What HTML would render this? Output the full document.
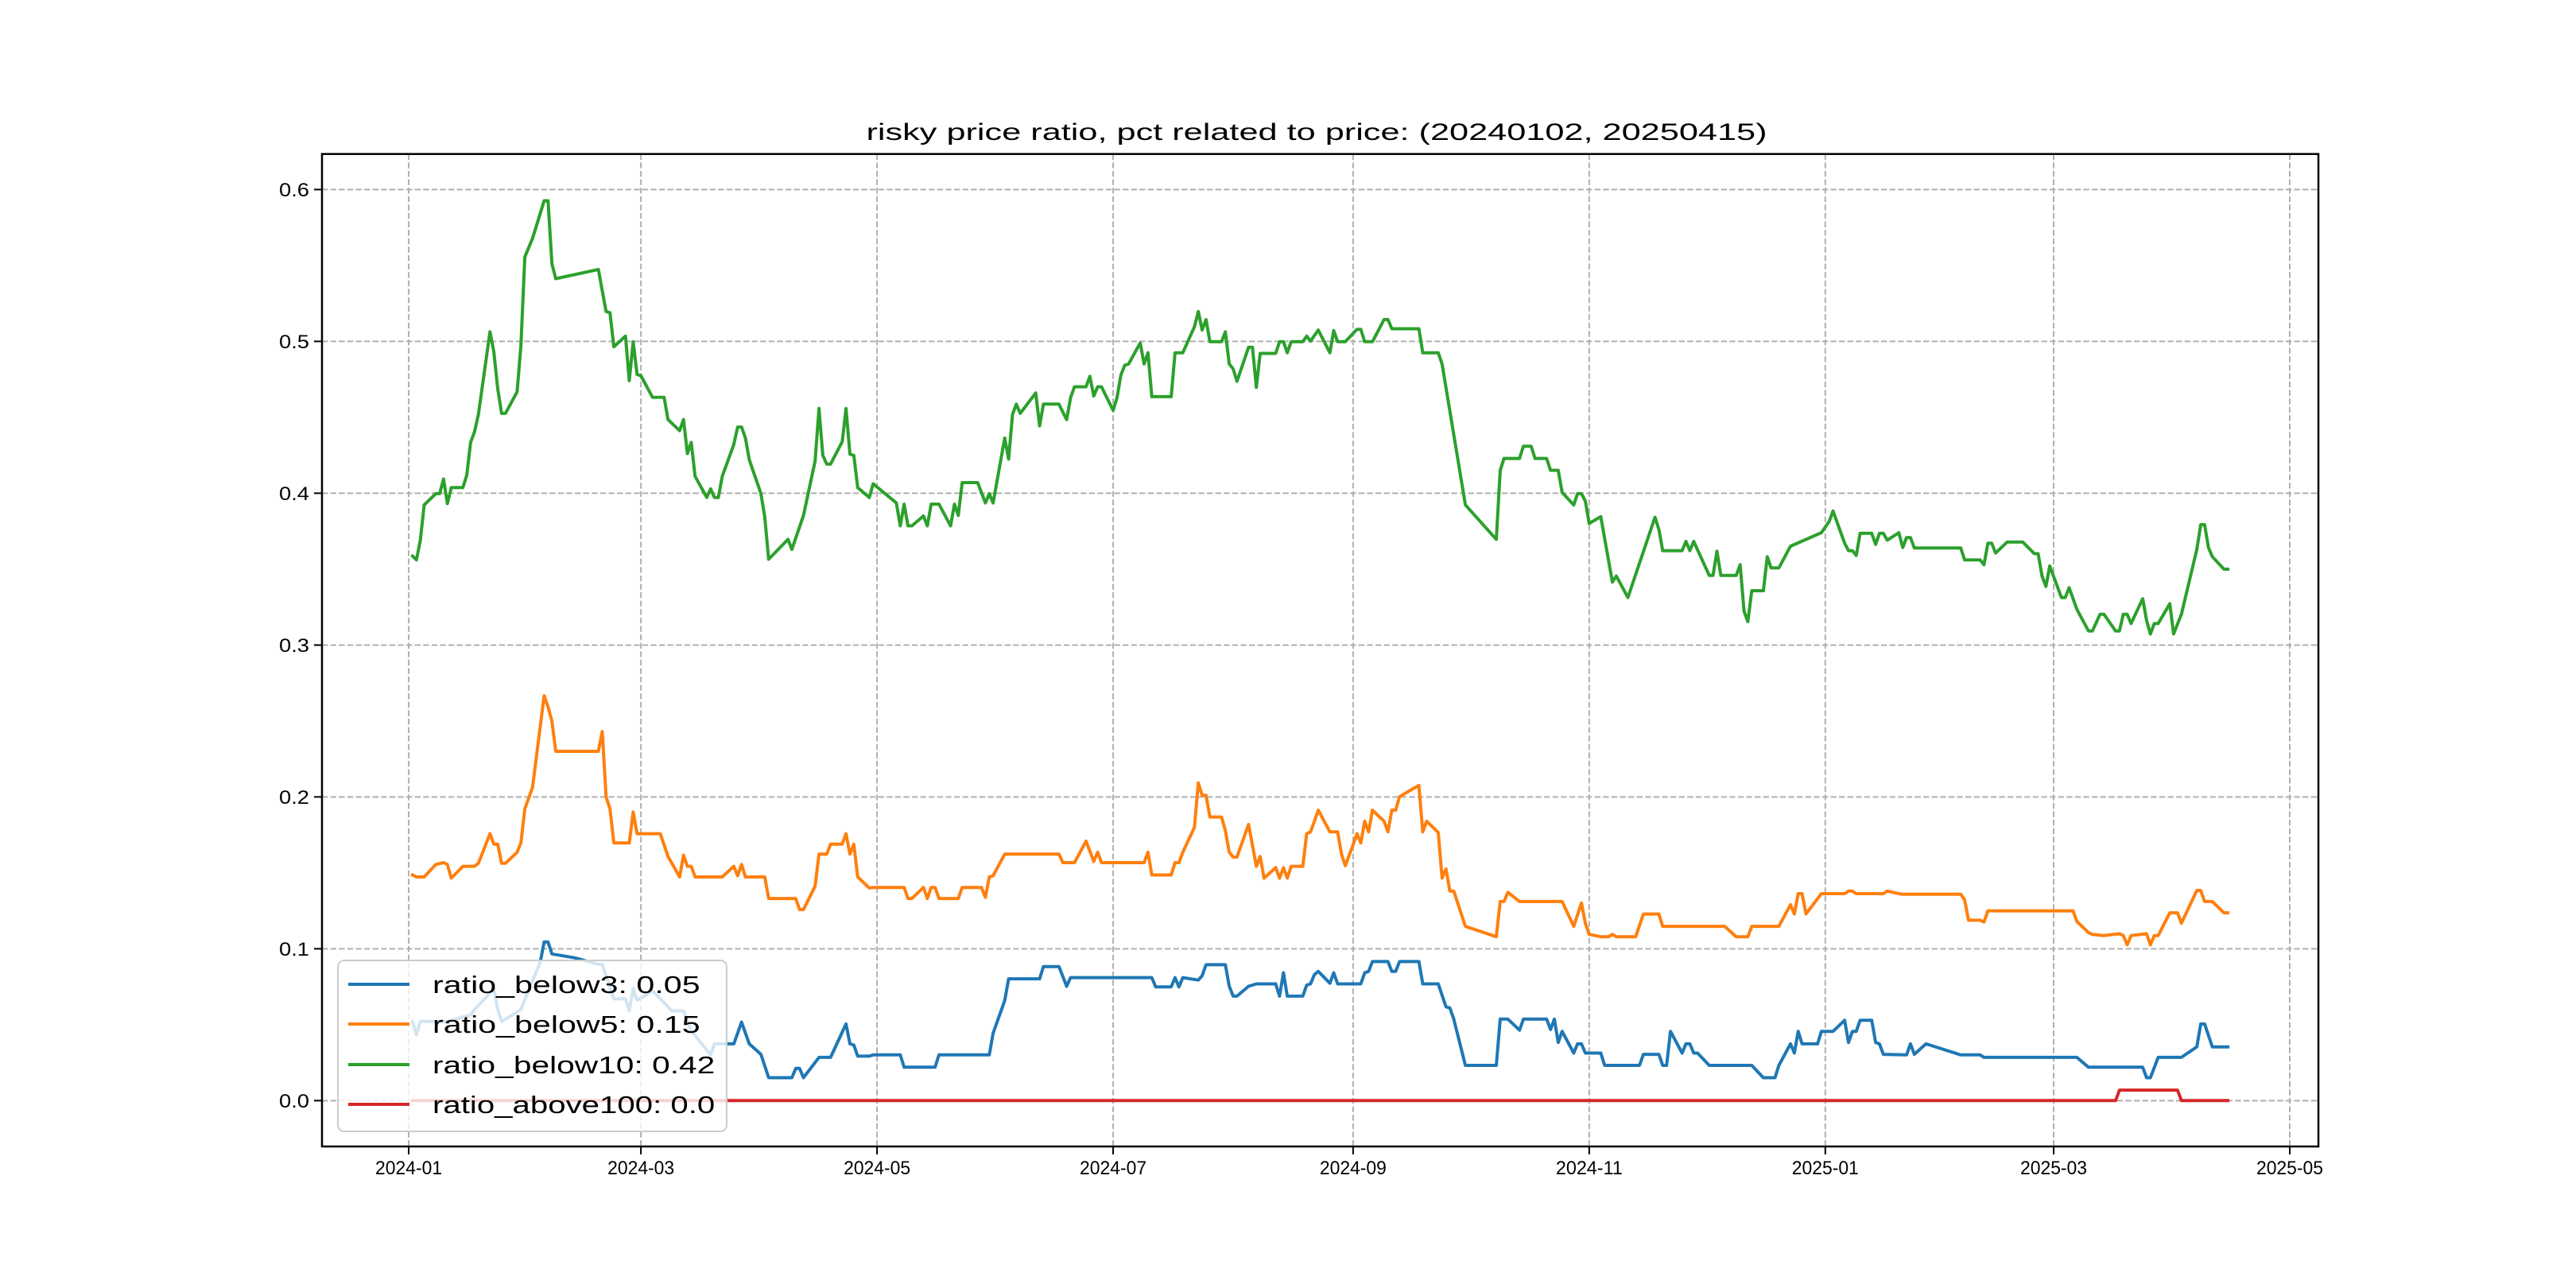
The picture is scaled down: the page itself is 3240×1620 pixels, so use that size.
<!DOCTYPE html>
<html><head><meta charset="utf-8"><style>
html,body{margin:0;padding:0;background:#fff;}
svg{display:block;}
text{font-family:"Liberation Sans","WenQuanYi Zen Hei",sans-serif;fill:#000;}
</style></head><body>
<svg id="chart" width="3240" height="1620" viewBox="0 0 3240 1620" xmlns="http://www.w3.org/2000/svg">
<rect x="0" y="0" width="3240" height="1620" fill="#fff"/>
<text x="1656" y="176" text-anchor="middle" font-size="30" textLength="1133" lengthAdjust="spacingAndGlyphs">risky price ratio, pct related to price: (20240102, 20250415)</text>
<g id="grid"></g>
<g id="series"></g>
<rect x="405" y="193.7" width="2511" height="1248.3" fill="none" stroke="#000" stroke-width="2.5"/>
<g id="ticks"></g>
<g id="legend"></g>
</svg>
<script>
// x values = days since 2024-01-01
const xTickLabels = ['2024-01','2024-03','2024-05','2024-07','2024-09','2024-11','2025-01','2025-03','2025-05'];
const xTickDays = [0,60,121,182,244,305,366,425,486];
const yTickValues = [0.0,0.1,0.2,0.3,0.4,0.5,0.6];
const yTickLabels = ['0.0','0.1','0.2','0.3','0.4','0.5','0.6'];
const seriesNames = ['ratio_below3: 0.05','ratio_below5: 0.15','ratio_below10: 0.42','ratio_above100: 0.0'];
const seriesColors = ['#1f77b4','#ff7f0e','#2ca02c','#d62728'];

const greenDays = [1,2,3,4,7,8,9,10,11,14,15,16,17,18,21,22,23,24,25,28,29,30,32,35,36,37,38,49,51,52,53,56,57,58,59,60,63,66,67,70,71,72,73,74,77,78,79,80,81,84,85,86,87,88,91,92,93,98,99,102,105,106,107,108,109,112,113,114,115,116,119,120,
126,127,128,129,130,133,134,135,137,140,141,142,143,147,149,150,151,154,155,156,157,158,162,163,164,168,169,170,171,172,175,176,177,178,179,182,183,184,185,186,189,190,191,192,197,198,200,203,204,205,206,207,210,211,212,213,214,217,218,219,220,224,225,226,227,228,231,232,233,235,238,239,240,242,
245,246,247,249,252,253,254,261,262,266,267,273,281,282,283,287,288,290,291,294,295,297,298,301,302,303,304,305,308,311,312,315,322,323,324,329,330,331,332,336,337,338,339,343,344,345,346,347,350,351,352,354,357,
365,367,368,371,372,373,374,375,378,379,380,381,382,385,386,387,388,389,401,402,406,407,408,409,410,413,417,420,421,422,423,424,427,428,429,431,434,435,437,438,441,442,443,444,445,448,449,450,451,452,455,456,458,462,463,464,465,466,469,470];
const greenValues = [.3586,.3561,.3691,.3923,.3997,.3997,.4094,.3932,.4037,.4037,.4119,.4335,.4404,.4518,.5063,.4933,.4689,.4526,.4526,.4668,.4974,.5556,.5678,.5926,.5926,.5511,.5413,.5474,.5197,.5189,.4965,.5035,.4741,.4998,.4782,.4774,.4632,.4632,.4485,.4412,.4485,.4261,.4335,.4111,.3972,.4029,.3972,.3972,.4111,.4322,.4436,.4436,.4363,.4221,.3997,.3842,.3565,.3696,.3630,.3854,.4212,.4558,.4249,.4192,.4192,.4339,.4558,.4257,.4249,.4037,.3972,.4062,
.3936,.3785,.3928,.3785,.3785,.3850,.3785,.3928,.3928,.3785,.3928,.3854,.4070,.4070,.3936,.3997,.3936,.4363,.4225,.4518,.4587,.4526,.4660,.4444,.4587,.4587,.4534,.4485,.4628,.4701,.4701,.4770,.4640,.4701,.4701,.4546,.4628,.4778,.4843,.4851,.4990,.4851,.4925,.4636,.4636,.4925,.4925,.5096,.5197,.5075,.5144,.4998,.4998,.5063,.4851,.4819,.4737,.4961,.4961,.4697,.4921,.4921,.4998,.4998,.4925,.4998,.4998,.5035,.5002,.5075,.4925,.5071,.4998,.4998,
.5079,.5079,.4998,.4998,.5144,.5144,.5083,.5083,.4925,.4925,.4851,.3923,.3696,.4151,.4229,.4229,.4310,.4310,.4229,.4229,.4151,.4151,.4005,.3923,.3997,.3997,.3948,.3801,.3846,.3415,.3455,.3313,.3842,.3761,.3622,.3622,.3683,.3622,.3683,.3459,.3459,.3618,.3459,.3459,.3529,.3223,.3154,.3358,.3358,.3582,.3508,.3508,.3651,
.3740,.3814,.3883,.3671,.3622,.3622,.3590,.3736,.3736,.3663,.3736,.3736,.3691,.3740,.3643,.3708,.3708,.3639,.3639,.3561,.3561,.3529,.3671,.3671,.3606,.3679,.3679,.3602,.3602,.3455,.3386,.3521,.3313,.3313,.3378,.3236,.3093,.3093,.3203,.3203,.3093,.3093,.3203,.3203,.3142,.3305,.3162,.3073,.3142,.3142,.3272,.3073,.3203,.3630,.3793,.3793,.3643,.3582,.3500,.3500];

const orangeDays = [1,2,4,7,9,10,11,14,17,18,21,22,23,24,25,28,29,30,32,35,36,37,38,49,50,51,52,53,57,58,59,65,67,70,71,72,73,74,81,84,85,86,87,92,93,100,101,102,105,106,108,109,112,113,114,115,116,119,
120,128,129,130,133,134,135,136,137,142,143,148,149,150,151,154,168,169,172,175,177,178,179,190,191,192,197,198,199,200,203,204,205,206,207,210,211,212,213,214,217,219,220,221,224,225,226,227,228,231,232,233,234,235,238,240,241,242,244,
245,246,247,248,249,252,253,254,255,256,261,262,263,266,267,268,269,270,273,281,282,283,284,287,298,301,303,304,305,308,310,311,312,317,319,323,324,340,343,346,347,354,357,358,359,360,361,
365,371,372,373,374,381,382,385,386,401,402,403,406,407,408,430,431,434,435,438,442,443,444,445,449,450,451,452,455,457,458,462,463,464,466,469,470];
const orangeValues = [.1486,.1473,.1473,.1555,.1567,.1555,.1465,.1543,.1543,.1563,.1758,.1689,.1689,.1563,.1563,.1636,.1697,.1921,.2063,.2666,.2593,.2499,.2300,.2300,.2430,.2002,.1921,.1697,.1697,.1901,.1758,.1758,.1608,.1473,.1616,.1543,.1543,.1473,.1473,.1543,.1481,.1555,.1473,.1473,.1331,.1331,.1258,.1258,.1412,.1624,.1624,.1689,.1689,.1758,.1624,.1689,.1473,.1400,
.1404,.1404,.1331,.1331,.1404,.1331,.1404,.1404,.1331,.1331,.1404,.1404,.1339,.1473,.1481,.1624,.1624,.1567,.1567,.1709,.1575,.1636,.1567,.1567,.1636,.1486,.1486,.1567,.1567,.1636,.1799,.2092,.2011,.2011,.1868,.1868,.1779,.1636,.1604,.1604,.1819,.1543,.1608,.1465,.1534,.1465,.1534,.1465,.1543,.1543,.1758,.1770,.1840,.1913,.1770,.1770,.1624,.1547,.1685,
.1758,.1697,.1840,.1770,.1913,.1840,.1770,.1913,.1913,.2002,.2076,.1770,.1840,.1766,.1465,.1526,.1380,.1380,.1148,.1079,.1311,.1311,.1372,.1311,.1311,.1148,.1302,.1168,.1095,.1079,.1079,.1095,.1079,.1079,.1229,.1229,.1148,.1148,.1079,.1079,.1148,.1148,.1290,.1229,.1363,.1363,.1229,
.1363,.1363,.1380,.1380,.1363,.1363,.1380,.1363,.1359,.1359,.1323,.1188,.1188,.1176,.1250,.1250,.1180,.1107,.1095,.1087,.1099,.1087,.1026,.1087,.1099,.1026,.1087,.1087,.1237,.1237,.1168,.1384,.1384,.1311,.1311,.1237,.1237];

const blueDays = [1,2,3,10,16,17,20,22,23,24,28,29,34,35,36,37,43,49,50,53,56,57,58,59,63,65,68,71,73,78,79,80,84,86,88,91,93,99,100,101,102,106,109,113,114,115,116,119,
120,127,128,136,137,150,151,154,155,163,164,168,170,171,192,193,197,198,199,200,204,205,206,211,212,213,214,217,219,224,225,226,227,231,232,233,234,235,238,239,240,244,
246,247,248,249,253,254,255,256,261,262,266,268,269,270,273,281,282,284,287,288,294,295,296,297,298,301,302,303,304,308,309,318,319,323,324,325,326,329,330,331,332,333,336,347,350,353,354,357,358,359,360,364,365,368,371,372,373,374,375,378,379,380,381,387,388,389,392,401,406,407,431,434,448,449,450,452,458,462,463,464,466,470];
const blueValues = [.0521,.0434,.0521,.0521,.0565,.0600,.0679,.0740,.0600,.0521,.0583,.0600,.0914,.1045,.1045,.0966,.0940,.0897,.0897,.0670,.0670,.0591,.0740,.0661,.0722,.0670,.0591,.0591,.0460,.0303,.0374,.0374,.0374,.0517,.0374,.0305,.0151,.0151,.0212,.0212,.0151,.0285,.0285,.0505,.0374,.0366,.0293,.0293,
.0301,.0301,.0220,.0220,.0301,.0301,.0444,.0659,.0802,.0802,.0883,.0883,.0753,.0810,.0810,.0749,.0749,.0810,.0749,.0810,.0794,.0822,.0895,.0895,.0753,.0688,.0688,.0753,.0769,.0769,.0688,.0842,.0688,.0688,.0761,.0769,.0830,.0851,.0773,.0842,.0769,.0769,
.0769,.0842,.0851,.0916,.0916,.0851,.0851,.0916,.0916,.0769,.0769,.0618,.0610,.0537,.0232,.0232,.0537,.0537,.0464,.0537,.0537,.0468,.0537,.0383,.0456,.0313,.0374,.0374,.0313,.0313,.0232,.0232,.0305,.0305,.0232,.0232,.0456,.0313,.0374,.0374,.0313,.0313,.0232,.0232,.0151,.0151,.0232,.0374,.0313,.0456,.0374,.0374,.0456,.0456,.0529,.0383,.0456,.0456,.0529,.0529,.0383,.0374,.0305,.0301,.0374,.0305,.0374,.0301,.0301,.0285,.0285,.0220,.0220,.0151,.0151,.0285,.0285,.0354,.0505,.0505,.0354,.0354];

const redDays = [1,441,442,457,458,470];
const redValues = [0,0,.0069,.0069,0,0];

const NS='http://www.w3.org/2000/svg';
const X0=405, X1=2916, Y0=193.7, Y1=1442;
const DMIN=-22.4, DMAX=493.4, VMIN=-0.0302, VMAX=0.6234;
function xScale(d){return X0+(d-DMIN)/(DMAX-DMIN)*(X1-X0);}
function yScale(v){return Y1-(v-VMIN)/(VMAX-VMIN)*(Y1-Y0);}
function mk(tag,attrs,parent){const e=document.createElementNS(NS,tag);for(const k in attrs)e.setAttribute(k,attrs[k]);parent.appendChild(e);return e;}

const grid=document.getElementById('grid');
const ticks=document.getElementById('ticks');
xTickDays.forEach((d,i)=>{
  const x=xScale(d);
  const g=mk('line',{x1:x,x2:x,y1:Y0,y2:Y1,stroke:'#b0b0b0','stroke-width':2,'stroke-dasharray':'7.4,3.2'},grid);
  
  
  const t=mk('line',{x1:x,x2:x,y1:Y1,y2:Y1+10,stroke:'#000','stroke-width':2},ticks);
  
  
  const lb=mk('text',{x:x,y:Y1+35,'text-anchor':'middle','font-size':24,textLength:84,lengthAdjust:'spacingAndGlyphs'},ticks);
  lb.textContent=xTickLabels[i];
  
  
});
yTickValues.forEach((v,i)=>{
  const y=yScale(v);
  const g=mk('line',{x1:X0,x2:X1,y1:y,y2:y,stroke:'#b0b0b0','stroke-width':2,'stroke-dasharray':'7.4,3.2'},grid);
  
  
  const t=mk('line',{x1:X0-10,x2:X0,y1:y,y2:y,stroke:'#000','stroke-width':2},ticks);
  
  
  const lb=mk('text',{x:389,y:y+8.5,'text-anchor':'end','font-size':24,textLength:38,lengthAdjust:'spacingAndGlyphs'},ticks);
  lb.textContent=yTickLabels[i];
  
  
});

const seriesG=document.getElementById('series');
const allDays=[blueDays,orangeDays,greenDays,redDays];
const allVals=[blueValues,orangeValues,greenValues,redValues];
const lineNames=['line-ratio-below3','line-ratio-below5','line-ratio-below10','line-ratio-above100'];
allDays.forEach((days,s)=>{
  const vals=allVals[s];
  const pts=days.map((d,i)=>xScale(d).toFixed(1)+','+yScale(vals[i]).toFixed(1)).join(' ');
  const p=mk('polyline',{points:pts,fill:'none',stroke:seriesColors[s],'stroke-width':4,'stroke-linejoin':'round','stroke-linecap':'square'},seriesG);
  
  
});

const legend=document.getElementById('legend');
const box=mk('rect',{x:425,y:1208,width:489,height:215,rx:8,fill:'#fff','fill-opacity':0.8,stroke:'#cccccc','stroke-width':2},legend);


const rowY=[1238,1288,1339,1389];
const legendEntryNames=['legend-entry-below3','legend-entry-below5','legend-entry-below10','legend-entry-above100'];
seriesNames.forEach((nm,i)=>{
  const g=mk('g',{},legend);
  
  
  const h=mk('line',{x1:438,x2:515,y1:rowY[i],y2:rowY[i],stroke:seriesColors[i],'stroke-width':4},g);
  
  
  const t=mk('text',{x:544,y:rowY[i]+11,'font-size':31,textLength:(nm.length*18.7).toFixed(1),lengthAdjust:'spacingAndGlyphs'},g);
  t.textContent=nm;
  
  
});
</script>
</body></html>
